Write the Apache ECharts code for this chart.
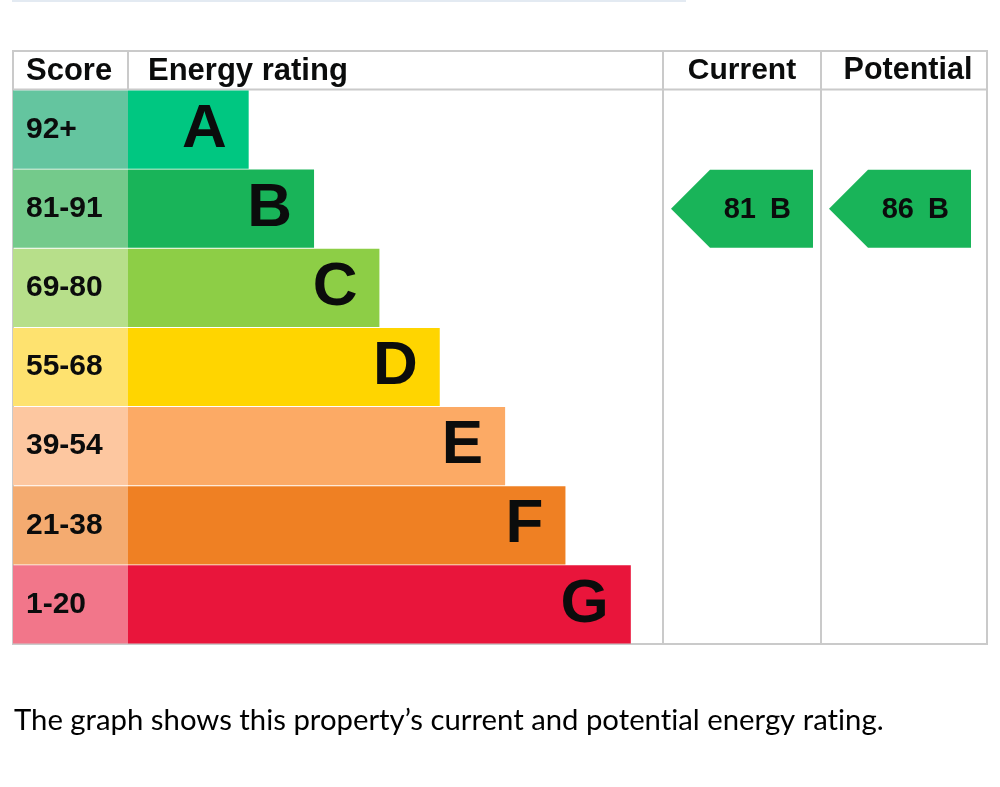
<!DOCTYPE html>
<html>
<head>
<meta charset="utf-8">
<script src="https://cdn.jsdelivr.net/npm/echarts@6/dist/echarts.min.js"></script>
<style>
html,body{margin:0;padding:0;background:#fff;}
#chart{width:1000px;height:787px;}
</style>
</head>
<body>
<div id="chart"></div>
<script>
// ---- data ----
const bands = ['A', 'B', 'C', 'D', 'E', 'F', 'G'];
const scoreRanges = ['92+', '81-91', '69-80', '55-68', '39-54', '21-38', '1-20'];
const bandMinScore = [92, 81, 69, 55, 39, 21, 1];
const bandLength = [24, 37, 50, 62, 75, 87, 100];
const bandColors = ['#00c781', '#19b459', '#8dce46', '#ffd500', '#fcaa65', '#ef8023', '#e9153b'];
const scoreColors = ['#64c59f', '#74ca8b', '#b7df8a', '#fee26f', '#fdc7a0', '#f4ab70', '#f2768a'];
const currentScore = 81;
const potentialScore = 86;
const headers = ['Score', 'Energy rating', 'Current', 'Potential'];
const footerText = 'The graph shows this property\u2019s current and potential energy rating.';

function bandIndexOf(score) {
  for (let i = 0; i < bandMinScore.length; i++) if (score >= bandMinScore[i]) return i;
  return bandMinScore.length - 1;
}

// split text between "t" and "i" into separate rich tokens so no "ti" ligature is drawn
function noLigature(s) {
  return s.split(/(?<=t)(?=i)/).map(part => '{f|' + part + '}').join('');
}

const chart = echarts.init(document.getElementById('chart'), null, {renderer: 'canvas'});
const TOP = 90, BOTTOM = 143;
const gridDefs = [
  {left: 13, width: 115, top: TOP, bottom: BOTTOM},
  {left: 128, width: 535, top: TOP, bottom: BOTTOM},
  {left: 663, width: 158, top: TOP, bottom: BOTTOM},
  {left: 821, width: 166, top: TOP, bottom: BOTTOM}
];
const txt = '#0b0c0c';
const boldFont = '"Liberation Sans", Arial, sans-serif';

function arrowRender(params, api) {
  const cs = params.coordSys;
  const band = api.value(1);
  const score = api.value(2);
  const cy = api.coord([0, band])[1];
  const bh = api.size([0, 1])[1];
  const top = cy - bh / 2 + 0.5, bottom = cy + bh / 2 - 0.5;
  const left = cs.x + 8, right = left + 142, tip = 39;
  return {
    type: 'group',
    children: [
      {type: 'polygon', shape: {points: [[left, cy], [left + tip, top], [right, top], [right, bottom], [left + tip, bottom]]},
        style: {fill: bandColors[band]}},
      {type: 'text', style: {text: String(score), x: right - 57, y: cy + 1, align: 'right', verticalAlign: 'middle',
        font: 'bold 29px ' + boldFont, fill: txt}},
      {type: 'text', style: {text: bands[band], x: right - 22, y: cy + 1, align: 'right', verticalAlign: 'middle',
        font: 'bold 29px ' + boldFont, fill: txt}}
    ]
  };
}

const cur = bandIndexOf(currentScore), pot = bandIndexOf(potentialScore);

const option = {
  animation: false,
  backgroundColor: '#fff',
  grid: gridDefs,
  xAxis: [
    {gridIndex: 0, type: 'value', min: 0, max: 1, show: false},
    {gridIndex: 1, type: 'value', min: 0, max: 106.4, show: false},
    {gridIndex: 2, type: 'value', min: 0, max: 1, show: false},
    {gridIndex: 3, type: 'value', min: 0, max: 1, show: false}
  ],
  yAxis: [0, 1, 2, 3].map(i => ({gridIndex: i, type: 'category', data: bands, inverse: true, show: false})),
  graphic: [
    {type: 'line', shape: {x1: 12, y1: 1, x2: 686, y2: 1}, style: {stroke: '#e3eaf2', lineWidth: 2}, z: -1},
    {type: 'line', shape: {x1: 13, y1: 51, x2: 987, y2: 51}, style: {stroke: '#cacaca', lineWidth: 2}},
    {type: 'line', shape: {x1: 13, y1: 89.5, x2: 987, y2: 89.5}, style: {stroke: '#cacaca', lineWidth: 2}},
    {type: 'line', shape: {x1: 13, y1: 644, x2: 987, y2: 644}, style: {stroke: '#cacaca', lineWidth: 2}},
    {type: 'line', shape: {x1: 13, y1: 50, x2: 13, y2: 645}, style: {stroke: '#cacaca', lineWidth: 2}},
    {type: 'line', shape: {x1: 128, y1: 50, x2: 128, y2: 90}, style: {stroke: '#cacaca', lineWidth: 2}},
    {type: 'line', shape: {x1: 663, y1: 50, x2: 663, y2: 645}, style: {stroke: '#cacaca', lineWidth: 2}},
    {type: 'line', shape: {x1: 821, y1: 50, x2: 821, y2: 645}, style: {stroke: '#cacaca', lineWidth: 2}},
    {type: 'line', shape: {x1: 987, y1: 50, x2: 987, y2: 645}, style: {stroke: '#cacaca', lineWidth: 2}},
    {type: 'text', style: {text: headers[0], x: 26, y: 71, verticalAlign: 'middle', font: 'bold 31px ' + boldFont, fill: txt}},
    {type: 'text', style: {text: headers[1], x: 148, y: 71, verticalAlign: 'middle', font: 'bold 31px ' + boldFont, fill: txt}},
    {type: 'text', style: {text: headers[2], x: 742, y: 71, align: 'center', verticalAlign: 'middle', font: 'bold 30px ' + boldFont, fill: txt}},
    {type: 'text', style: {text: headers[3], x: 908, y: 71, align: 'center', verticalAlign: 'middle', font: 'bold 30.5px ' + boldFont, fill: txt}},
    {type: 'text', style: {text: noLigature(footerText), x: 14, y: 721, verticalAlign: 'middle',
      rich: {f: {fontFamily: 'Lato, "Open Sans", sans-serif', fontSize: 29.3, color: txt}}}}
  ],
  series: [
    {
      type: 'bar', xAxisIndex: 0, yAxisIndex: 0, barCategoryGap: '1.2%',
      data: scoreRanges.map((s, i) => ({value: 1, itemStyle: {color: scoreColors[i]}})),
      label: {show: true, position: 'insideLeft', distance: 13, formatter: p => scoreRanges[p.dataIndex],
        fontFamily: boldFont, fontWeight: 'bold', fontSize: 30, color: txt}
    },
    {
      type: 'bar', xAxisIndex: 1, yAxisIndex: 1, barCategoryGap: '1.2%',
      data: bandLength.map((v, i) => ({value: v, itemStyle: {color: bandColors[i]}})),
      label: {show: true, position: 'insideRight', distance: 22, formatter: p => bands[p.dataIndex],
        fontFamily: boldFont, fontWeight: 'bold', fontSize: 62, color: txt}
    },
    {type: 'custom', xAxisIndex: 2, yAxisIndex: 2, renderItem: arrowRender, data: [[0, cur, currentScore]]},
    {type: 'custom', xAxisIndex: 3, yAxisIndex: 3, renderItem: arrowRender, data: [[0, pot, potentialScore]]}
  ]
};
chart.setOption(option);
</script>
</body>
</html>
